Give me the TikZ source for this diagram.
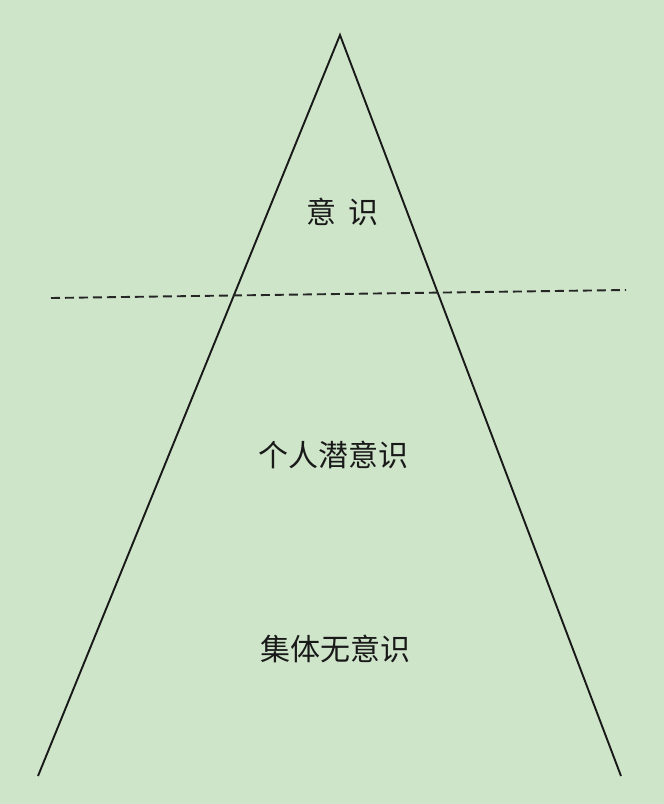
\documentclass[tikz,border=0pt]{standalone}
\usepackage{fontspec}
\newfontfamily\cjk{Noto Sans CJK SC}
\definecolor{bgc}{HTML}{CFE5CA}
\begin{document}
\begin{tikzpicture}[x=1pt,y=-1pt,
  lbl/.style={font=\cjk\fontsize{30pt}{33pt}\selectfont, inner sep=0pt, text=black!90},
  edge/.style={line width=1.9pt, black!90},
  dline/.style={line width=1.9pt, black!85, dash pattern=on 9pt off 5pt}]
\fill[bgc] (0,0) rectangle (664,804);
\useasboundingbox (0,0) rectangle (664,804);
\coordinate (apex) at (340,35);
\coordinate (bl) at (38,776);
\coordinate (br) at (621,776);
\coordinate (dl) at (51,298);
\coordinate (dr) at (626,290);
\draw[edge, line join=miter] (bl) -- (apex) -- (br);
\draw[dline] (dl) -- (dr);
\node[lbl] (t1) at (342,212) {意\hspace{12pt}识};
\node[lbl] (t2) at (333,455) {个人潜意识};
\node[lbl] (t3) at (335,649) {集体无意识};
\end{tikzpicture}
\end{document}
